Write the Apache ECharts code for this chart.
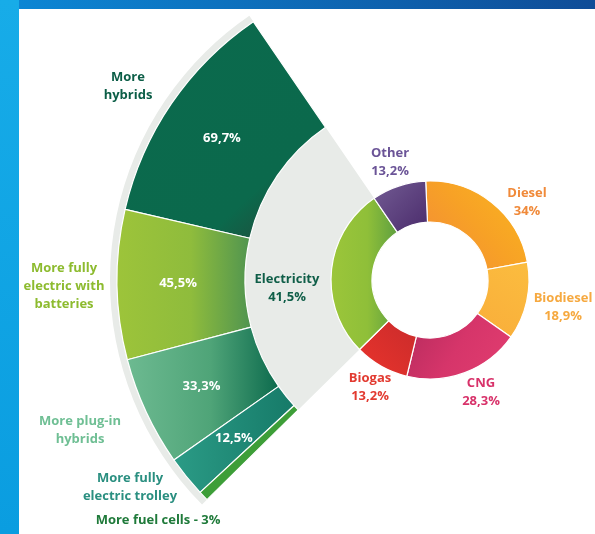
<!DOCTYPE html>
<html>
<head>
<meta charset="utf-8">
<script src="https://cdn.jsdelivr.net/npm/echarts@6/dist/echarts.min.js"></script>
<style>
  html, body { margin: 0; padding: 0; background: #fff; }
  #side { position: absolute; left: 0; top: 0; width: 19px; height: 534px;
          background: linear-gradient(180deg, #17ace8, #0a9de0); }
  #topbar { position: absolute; left: 19px; top: 0; width: 576px; height: 9px;
            background: linear-gradient(90deg, #0c86d4, #0f4c97); }
  #chart { position: absolute; left: 0; top: 0; width: 595px; height: 534px; }
</style>
</head>
<body>
<div id="side"></div>
<div id="topbar"></div>
<div id="chart"></div>
<script>
// fuel types (donut)
const fuelNames  = ['Diesel', 'Biodiesel', 'CNG', 'Biogas', 'Electricity', 'Other']
const fuelValues = [34, 18.9, 28.3, 13.2, 41.5, 13.2]

// breakdown of the electricity answers (fan)
const elecNames  = ['More\nhybrids', 'More fully\nelectric with\nbatteries', 'More plug-in\nhybrids',
                    'More fully\nelectric trolley', 'More fuel cells - 3%']
const elecValues = [69.7, 45.5, 33.3, 12.5, 3]

const pct = v => String(v).replace('.', ',') + '%'

const chart = echarts.init(document.getElementById('chart'))

const cx = 430, cy = 280
const startDeg = 92.5
const total = fuelValues.reduce((a, b) => a + b, 0)
const elecIdx = fuelNames.indexOf('Electricity')
const before = fuelValues.slice(0, elecIdx).reduce((a, b) => a + b, 0)
const elecFrom = startDeg - before / total * 360 + 360          // lower edge (ccw angle)
const elecTo   = elecFrom - fuelValues[elecIdx] / total * 360   // upper edge

// gradient helper: stops as [offset, color]
const lg = (x, y, x2, y2, stops) => new echarts.graphic.LinearGradient(x, y, x2, y2,
  stops.map(s => ({ offset: s[0], color: s[1] })))

const fuelColors = [
  lg(1, 0, 0, 1, [[0, '#fab71f'], [0.5, '#f7a126'], [1, '#f28a3a']]),
  lg(1, 0, 0, 1, [[0, '#fbbd3f'], [1, '#f9ad3a']]),
  lg(1, 1, 0, 0, [[0, '#e23e70'], [0.5, '#d6356a'], [1, '#b42a5c']]),
  lg(0, 1, 1, 0, [[0, '#ea342c'], [1, '#c92b2b']]),
  lg(0, 0, 1, 0, [[0, '#9cc63a'], [0.55, '#8fbf39'], [1, '#5e9f40']]),
  lg(0, 0, 1, 1, [[0, '#735c94'], [1, '#4a2b6b']])
]
const fuelLabelColors = ['#f08a3a', '#f6a940', '#d8326a', '#e23a30', '#0f5e48', '#6b5497']
const fuelLabelPos = [[527, 202], [563, 307], [481, 392], [370, 387], [287, 288], [390, 162]]

const elecColors = [
  lg(0, 0, 1, 1, [[0, '#0b6a4d'], [0.72, '#0b694c'], [1, '#2c3e33']]),
  lg(0, 0, 1, 0, [[0, '#9dc43a'], [0.55, '#8fbc3c'], [1, '#4f9450']]),
  lg(0, 0, 1, 0, [[0, '#6dba91'], [0.55, '#4fa478'], [1, '#0c6a4d']]),
  lg(0, 0, 1, 0, [[0, '#2b9b86'], [1, '#167a68']]),
  '#3d9e38'
]
const elecLabelColors = ['#0c5e47', '#8dbb2f', '#6fbf94', '#2a8f80', '#1f7a3a']
const elecLabelPos = [[128, 86], [64, 286], [80, 430], [130, 487], [158, 520]]

const txt = { fontFamily: 'Open Sans', fontWeight: 'bold', fontSize: 13, lineHeight: 18 }

chart.setOption({
  animation: false,
  series: [
    // grey background sector of electricity
    {
      type: 'pie', silent: true, center: [cx, cy], radius: [99, 320],
      startAngle: startDeg, avoidLabelOverlap: false,
      data: fuelValues.map((v, i) => ({
        value: v, name: fuelNames[i],
        itemStyle: { color: i === elecIdx ? '#e8ebe8' : 'rgba(0,0,0,0)' }
      })),
      label: { show: false }, labelLine: { show: false }
    },
    // donut
    {
      type: 'pie', silent: true, center: [cx, cy], radius: [58, 99],
      startAngle: startDeg, avoidLabelOverlap: false,
      itemStyle: { borderColor: '#fff', borderWidth: 1.2 },
      data: fuelValues.map((v, i) => ({
        value: v, name: fuelNames[i],
        itemStyle: { color: fuelColors[i] },
        label: { color: fuelLabelColors[i] }
      })),
      label: {
        show: true, position: 'inside', ...txt,
        formatter: p => p.name + '\n' + pct(p.value)
      },
      labelLine: { show: false },
      labelLayout: p => ({ x: fuelLabelPos[p.dataIndex][0], y: fuelLabelPos[p.dataIndex][1],
                           align: 'center', verticalAlign: 'middle' })
    },
    // electricity fan with values
    {
      type: 'pie', silent: true, center: [cx, cy], radius: [185, 313],
      startAngle: elecTo, endAngle: elecFrom, clockwise: false, avoidLabelOverlap: false,
      itemStyle: { borderColor: '#fff', borderWidth: 1.2 },
      data: elecValues.map((v, i) => ({
        value: v, name: elecNames[i],
        itemStyle: { color: elecColors[i] },
        label: { show: i < 4 }
      })),
      label: { position: 'inside', ...txt, color: '#fff', formatter: p => pct(p.value) },
      labelLine: { show: false }
    },
    // fan names
    {
      type: 'pie', silent: true, center: [cx, cy], radius: [185, 313],
      startAngle: elecTo, endAngle: elecFrom, clockwise: false, avoidLabelOverlap: false,
      data: elecValues.map((v, i) => ({
        value: v, name: elecNames[i],
        itemStyle: { color: 'rgba(0,0,0,0)' },
        label: { color: elecLabelColors[i] }
      })),
      label: { show: true, position: 'inside', ...txt, formatter: p => p.name },
      labelLine: { show: false },
      labelLayout: p => ({ x: elecLabelPos[p.dataIndex][0], y: elecLabelPos[p.dataIndex][1],
                           align: 'center', verticalAlign: 'middle' })
    }
  ]
})
</script>
</body>
</html>
